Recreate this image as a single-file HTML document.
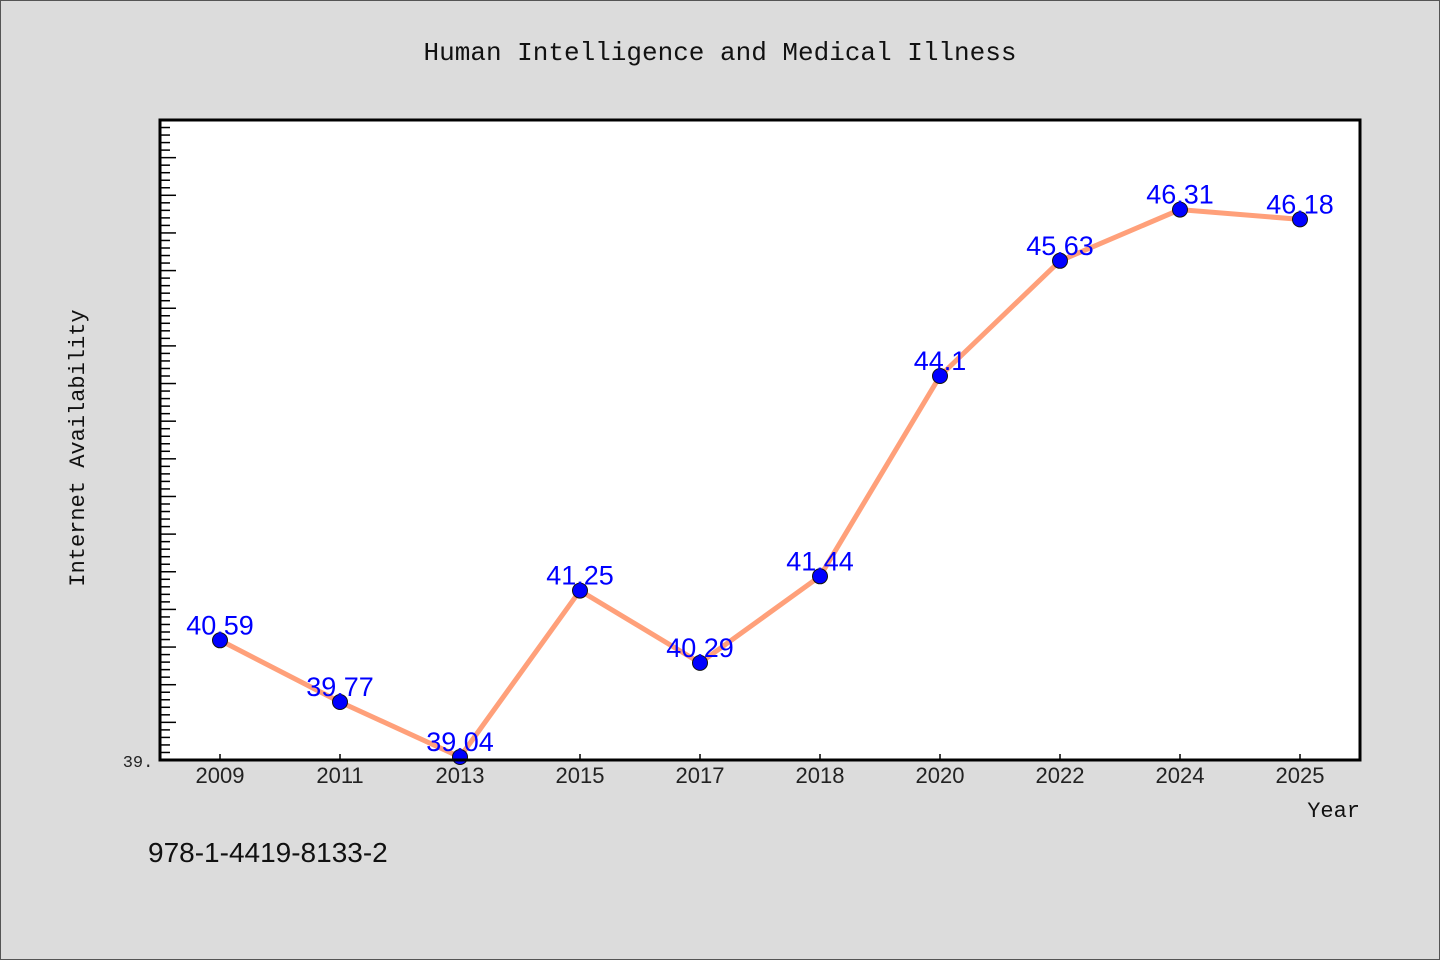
<!DOCTYPE html>
<html><head><meta charset="utf-8"><style>
body{margin:0;background:#dcdcdc;}
svg{display:block;font-family:"Liberation Mono","DejaVu Sans Mono",monospace;}
</style></head><body>
<svg id="c" width="1440" height="960" xmlns="http://www.w3.org/2000/svg">
<rect x="0.5" y="0.5" width="1439" height="959" fill="#dcdcdc" stroke="#555"/>
<text x="720" y="60" text-anchor="middle" font-size="26" fill="#111">Human Intelligence and Medical Illness</text>
<rect x="160" y="120" width="1200" height="640" fill="#fff"/>
<g id="yt"></g>
<g id="xt"></g>
<g id="series"></g>
<rect x="160" y="120" width="1200" height="640" fill="none" stroke="#000" stroke-width="3"/>
<text x="138" y="767" text-anchor="middle" font-size="17" fill="#222">39.</text>
<text transform="translate(84,448) rotate(-90)" text-anchor="middle" font-size="22" fill="#111">Internet Availability</text>
<text x="1360" y="817" text-anchor="end" font-size="22" fill="#111">Year</text>
<text x="148" y="862" font-family="Liberation Sans, sans-serif" font-size="28" fill="#111">978-1-4419-8133-2</text>
</svg>
<script>
const categories=["2009","2011","2013","2015","2017","2018","2020","2022","2024","2025"];
const values=[40.59,39.77,39.04,41.25,40.29,41.44,44.1,45.63,46.31,46.18];
const labels=["40.59","39.77","39.04","41.25","40.29","41.44","44.1","45.63","46.31","46.18"];
const yMin=39,yMax=47.5;
const L=160,R=1360,T=120,B=760;
const NS="http://www.w3.org/2000/svg";
const x=i=>L+(R-L)/categories.length*(i+0.5);
const y=v=>B-(v-yMin)/(yMax-yMin)*(B-T);
function mk(t,a,p){const e=document.createElementNS(NS,t);for(const k in a)e.setAttribute(k,a[k]);p.appendChild(e);return e;}
const yt=document.getElementById('yt');
for(let k=0;k<=Math.round((yMax-yMin)*10);k++){
 const v=yMin+k/10, yy=y(v), major=k%5===0;
 const t=mk('line',{x1:L,x2:L+(major?16:10),y1:yy,y2:yy,stroke:'#000','stroke-width':1.5},yt);
 
 
}
const xt=document.getElementById('xt');
categories.forEach((c,i)=>{
 const t=mk('line',{x1:x(i),x2:x(i),y1:B,y2:B-6,stroke:'#000','stroke-width':1.5},xt);
 
 
 const tx=mk('text',{x:x(i),y:783,'text-anchor':'middle','font-size':22,fill:'#222','font-family':'Liberation Sans, sans-serif'},xt);
 tx.textContent=c;
 
 
});
const g=document.getElementById('series');
const pl=mk('polyline',{points:values.map((v,i)=>x(i)+','+y(v)).join(' '),fill:'none',stroke:'#ffa07a','stroke-width':5,'stroke-linejoin':'round'},g);


values.forEach((v,i)=>{
 const c=mk('circle',{cx:x(i),cy:y(v),r:7.5,fill:'#0000ff',stroke:'#111','stroke-width':1},g);
 
 
});
values.forEach((v,i)=>{
 const t=mk('text',{x:x(i),y:y(v)-6,'text-anchor':'middle','font-size':27,fill:'#0000ff','font-family':'Liberation Sans, sans-serif'},g);
 t.textContent=labels[i];
 
 
});
</script>
</body></html>
